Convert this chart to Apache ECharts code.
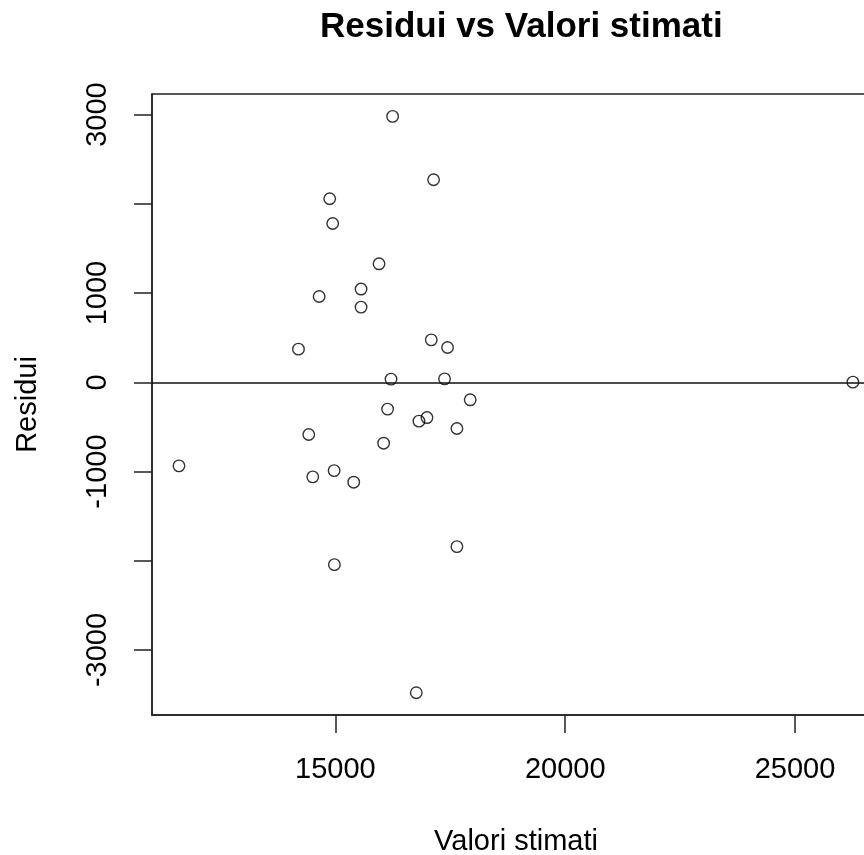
<!DOCTYPE html>
<html>
<head>
<meta charset="utf-8">
<script src="https://cdn.jsdelivr.net/npm/echarts@6/dist/echarts.min.js"></script>
<style>
html,body{margin:0;padding:0;background:#fff;overflow:hidden;}
#chart{width:900px;height:855px;}
</style>
</head>
<body>
<div id="chart"></div>
<script>
// Fitted values (x) and residuals (y)
const fitted = [11596, 14196, 14646, 15558, 15558, 15949, 17086, 17440, 16210, 17375,
  17933, 16136, 16818, 16992, 17644, 14420, 16049, 14507, 14972, 15398,
  17644, 14978, 16245, 17136, 14876, 14941, 16760, 26260];
const residuals = [-936, 372, 962, 1045, 843, 1328, 476, 390, 36, 39,
  -196, -300, -435, -395, -518, -585, -682, -1059, -989, -1119,
  -1841, -2043, 2980, 2270, 2057, 1780, -3478, 2];
const xTicks = [15000, 20000, 25000];
const yTicks = [-3000, -2000, -1000, 0, 1000, 2000, 3000];
const yTickLabels = [-3000, -1000, 0, 1000, 3000];
const titleText = 'Residui vs Valori stimati';
const xName = 'Valori stimati';
const yName = 'Residui';

const points = fitted.map((v, i) => [v, residuals[i]]);
const FONT = '"Liberation Sans", Arial, sans-serif';
const LW = 1.5;

const chart = echarts.init(document.getElementById('chart'), null, {renderer: 'canvas'});
chart.setOption({
  animation: false,
  backgroundColor: '#ffffff',
  title: {
    text: titleText,
    left: 315,
    top: 5,
    textStyle: {fontFamily: FONT, fontSize: 35, fontWeight: 'bold', color: '#000'}
  },
  grid: {
    left: 152, top: 94, right: 20, bottom: 140,
    containLabel: false,
    outerBoundsMode: 'none',
    show: true, borderColor: '#222', borderWidth: LW, backgroundColor: 'transparent'
  },
  xAxis: {
    type: 'value',
    min: 11009, max: 26850,
    name: xName,
    nameLocation: 'middle',
    nameGap: 112,
    nameTextStyle: {fontFamily: FONT, fontSize: 29, color: '#000'},
    axisLine: {show: true, onZero: false, lineStyle: {color: '#222', width: LW}},
    axisTick: {show: true, length: 18, inside: false, customValues: xTicks, lineStyle: {color: '#222', width: LW}},
    axisLabel: {show: true, margin: 40, customValues: xTicks, fontFamily: FONT, fontSize: 29, color: '#000',
      formatter: v => String(v)},
    splitLine: {show: false}
  },
  yAxis: {
    type: 'value',
    min: -3728, max: 3231,
    name: yName,
    nameLocation: 'middle',
    nameRotate: 90,
    nameGap: 110,
    nameTextStyle: {fontFamily: FONT, fontSize: 29, color: '#000'},
    axisLine: {show: true, onZero: false, lineStyle: {color: '#222', width: LW}},
    axisTick: {show: true, length: 18, inside: false, customValues: yTicks, lineStyle: {color: '#222', width: LW}},
    axisLabel: {show: true, rotate: 90, margin: 40, customValues: yTickLabels, fontFamily: FONT, fontSize: 29, color: '#000',
      formatter: v => String(v)},
    splitLine: {show: false}
  },
  series: [{
    type: 'scatter',
    data: points,
    symbol: 'circle',
    symbolSize: 11.5,
    itemStyle: {color: 'rgba(0,0,0,0)', borderColor: '#000', borderWidth: 1.4},
    emphasis: {disabled: true},
    markLine: {
      silent: true,
      symbol: ['none', 'none'],
      label: {show: false},
      lineStyle: {color: '#111', width: LW, type: 'solid'},
      data: [{yAxis: 0}]
    }
  }]
});
</script>
</body>
</html>
